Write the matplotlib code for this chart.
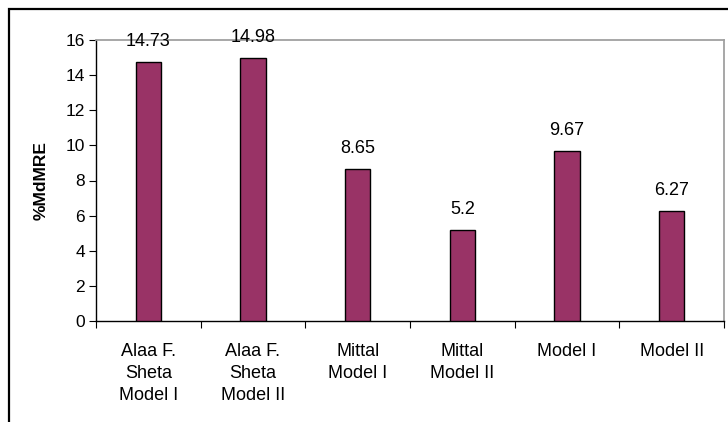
import matplotlib
matplotlib.use("Agg")
import matplotlib.pyplot as plt
from matplotlib.patches import Rectangle
import numpy as np

plt.rcParams['font.family'] = ['Liberation Sans', 'DejaVu Sans']

categories = ["Alaa F.\nSheta\nModel I", "Alaa F.\nSheta\nModel II", "Mittal\nModel I",
              "Mittal\nModel II", "Model I", "Model II"]
mdmre = [14.73, 14.98, 8.65, 5.2, 9.67, 6.27]
value_labels = ["14.73", "14.98", "8.65", "5.2", "9.67", "6.27"]
y_ticks = [0, 2, 4, 6, 8, 10, 12, 14, 16]

fig = plt.figure(figsize=(7.28, 4.22), dpi=100)
ax = fig.add_axes([96 / 728, 1 - 321 / 422, (724 - 96) / 728, (321 - 40) / 422])

# Outer chart frame
fig.patches.append(Rectangle((9 / 728, -0.05), 1.2, 1 - 9 / 422 + 0.05,
                             transform=fig.transFigure, fill=False,
                             edgecolor='black', linewidth=1.6))

x = np.arange(len(categories))
ax.bar(x, mdmre, width=0.24, color='#993366', edgecolor='black', linewidth=1.0, zorder=3)

for xi, v, lab in zip(x, mdmre, value_labels):
    ax.annotate(lab, (xi, v), xytext=(0, 8.5), textcoords='offset points',
                ha='center', va='bottom', fontsize=13, annotation_clip=False)

ax.set_xlim(-0.5, len(categories) - 0.5)
ax.set_ylim(0, 16)
ax.set_yticks(y_ticks)
ax.tick_params(axis='y', labelsize=12.5, length=5, direction='out', pad=3)

ax.set_xticks(np.arange(len(categories) + 1) - 0.5, minor=False)
ax.set_xticklabels([])
ax.tick_params(axis='x', which='major', length=5, direction='out')
ax.set_xticks(x, minor=True)
ax.set_xticklabels(categories, minor=True, fontsize=13, linespacing=1.38, va='top')
ax.tick_params(axis='x', which='minor', length=0, pad=16)

ax.set_ylabel('%MdMRE', fontsize=12.5, fontweight='bold', labelpad=12)

for s in ['left', 'bottom']:
    ax.spines[s].set_color('black')
    ax.spines[s].set_linewidth(1.0)
for s in ['top', 'right']:
    ax.spines[s].set_color('#a0a0a0')
    ax.spines[s].set_linewidth(1.3)

fig.savefig('out.png', dpi=100)
